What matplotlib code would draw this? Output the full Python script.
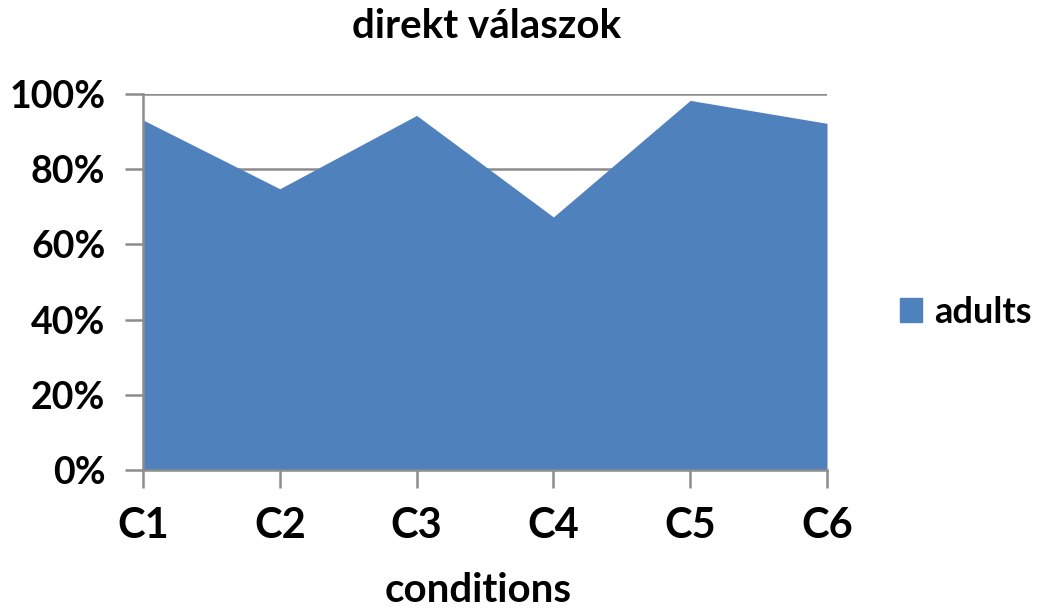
import matplotlib
matplotlib.use("Agg")
import matplotlib.pyplot as plt
from matplotlib.ticker import PercentFormatter
from matplotlib.patches import Patch

plt.rcParams['font.family'] = ['Lato', 'DejaVu Sans']
plt.rcParams['font.weight'] = 'bold'

# values
conditions = ['C1', 'C2', 'C3', 'C4', 'C5', 'C6']
adults = [0.931, 0.748, 0.943, 0.673, 0.983, 0.922]

W, H = 1041, 612
fig = plt.figure(figsize=(W / 100, H / 100), dpi=100)
ax = fig.add_axes([143/W, 1 - 470/H, (827-143)/W, (470-94)/H])

x = range(len(conditions))
ax.fill_between(x, adults, 0, color='#4F81BD', linewidth=0, zorder=2)

ax.set_xlim(0, len(conditions) - 1)
ax.set_ylim(0, 1)
ax.set_xticks(list(x))
ax.set_xticklabels(conditions)
ax.set_yticks([0, 0.2, 0.4, 0.6, 0.8, 1.0])
ax.yaxis.set_major_formatter(PercentFormatter(1.0, decimals=0))

ax.grid(axis='y', color='#8c8c8c', linewidth=1.8, zorder=1)
for s in ['top', 'right']:
    ax.spines[s].set_visible(False)
for s in ['left', 'bottom']:
    ax.spines[s].set_color('#8c8c8c')
    ax.spines[s].set_linewidth(1.8)
    ax.spines[s].set_zorder(3)

ax.tick_params(axis='both', length=13, width=1.8, color='#8c8c8c')
ax.tick_params(axis='y', labelsize=27, pad=14)
ax.tick_params(axis='x', labelsize=30, pad=14)

fig.text(487/W, 1 - 27/H, 'direkt válaszok', fontsize=29, fontweight='bold',
         ha='center', va='center')
fig.text(478/W, 1 - 591/H, 'conditions', fontsize=29, fontweight='bold',
         ha='center', va='center')

ax.legend(handles=[Patch(color='#4F81BD', label='adults')],
          loc='center left', bbox_to_anchor=(1.106, 0.42), frameon=False,
          handlelength=0.62, handleheight=0.62, handletextpad=0.35,
          borderpad=0, borderaxespad=0,
          prop={'weight': 'bold', 'size': 26})

fig.savefig('out.png', dpi=100)
